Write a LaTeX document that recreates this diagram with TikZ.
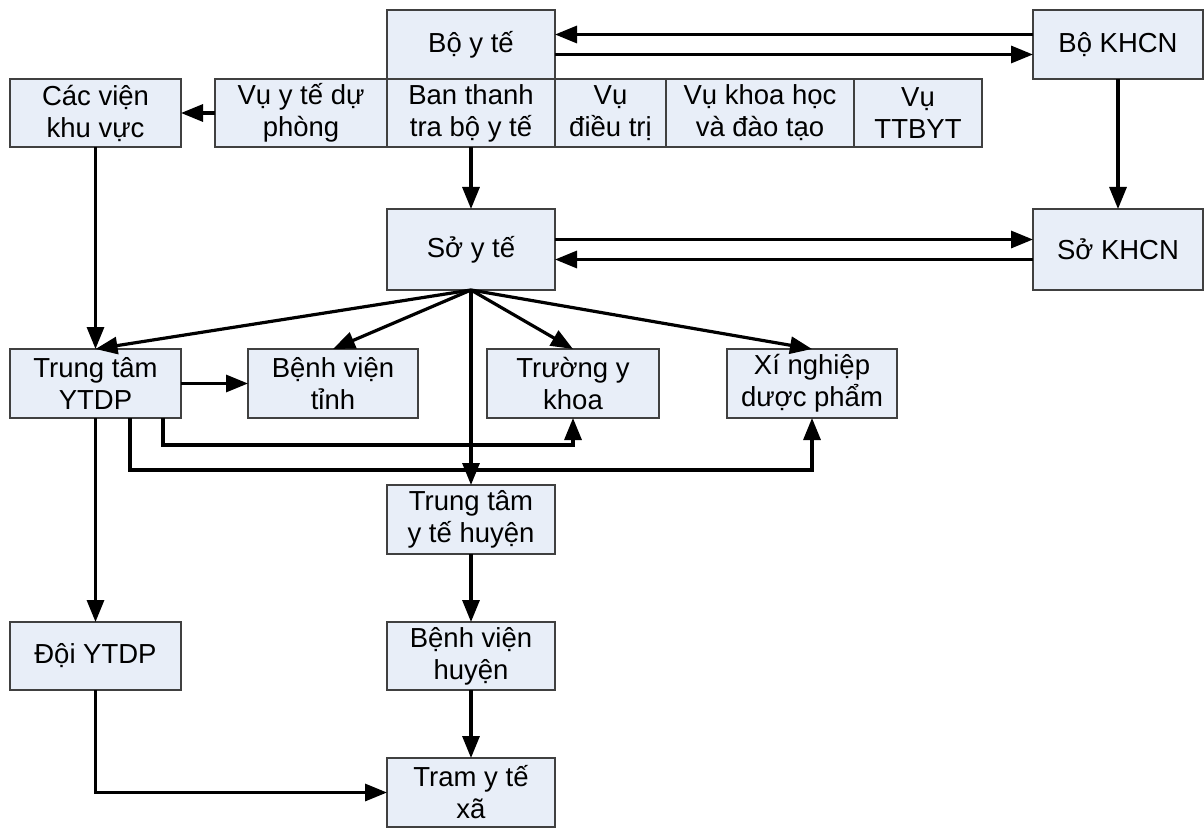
\documentclass[tikz,border=0pt]{standalone}
\usepackage{fontspec}
\setmainfont{Liberation Sans}
\usetikzlibrary{arrows.meta}
\definecolor{boxfill}{RGB}{232,238,248}
\definecolor{boxline}{RGB}{64,64,64}
\newcommand\mybox[6]{\node[box,minimum width={#4-#2},minimum height={#5-#3}] (#1) at ({(#2+#4)/2},{(#3+#5)/2}) {#6};}
\begin{document}
\begin{tikzpicture}[x=1pt,y=-1pt,
  box/.style={draw=boxline,fill=boxfill,line width=1.5pt,inner sep=0pt,outer sep=0pt,align=center,
    font=\fontsize{27.5}{32}\selectfont},
  arr/.style={line width=3.2pt,-{Triangle[length=22pt,width=17pt]}}]
\useasboundingbox (0,0) rectangle (1204,829);
\mybox{boy}{387}{10}{555}{79}{Bộ y tế}
\mybox{bokhcn}{1033}{10}{1203}{79}{Bộ KHCN}
\mybox{cacvien}{10}{79}{181}{147}{Các viện\\khu vực}
\mybox{vuytdp}{215}{79}{387}{147}{Vụ y tế dự\\phòng}
\mybox{banthanh}{387}{79}{555}{147}{Ban thanh\\tra bộ y tế}
\mybox{vudieutri}{555}{79}{666}{147}{Vụ\\điều trị}
\mybox{vukhoahoc}{666}{79}{854}{147}{Vụ khoa học\\và đào tạo}
\mybox{vuttbyt}{854}{79}{982}{147}{Vụ\\TTBYT}
\mybox{soyte}{387}{209}{555}{290}{Sở y tế}
\mybox{sokhcn}{1033}{209}{1203}{290}{Sở KHCN}
\mybox{ttytdp}{10}{349}{181}{418}{Trung tâm\\YTDP}
\mybox{bvtinh}{248}{349}{418}{418}{Bệnh viện\\tỉnh}
\mybox{truongyk}{487}{349}{659}{418}{Trường y\\khoa}
\mybox{xinghiep}{727}{349}{897}{418}{Xí nghiệp\\dược phẩm}
\mybox{ttyth}{387}{485}{555}{554}{Trung tâm\\y tế huyện}
\mybox{bvhuyen}{387}{622}{555}{690}{Bệnh viện\\huyện}
\mybox{tramyt}{387}{758}{555}{827}{Tram y tế\\xã}
\mybox{doiytdp}{10}{622}{181}{690}{Đội YTDP}
% top links
\draw[arr] ([yshift=10pt]bokhcn.west) -- ([yshift=10pt]boy.east);
\draw[arr] ([yshift=-10pt]boy.east) -- ([yshift=-10pt]bokhcn.west);
\draw[arr] ([yshift=10pt]soyte.east) -- ([yshift=10pt]sokhcn.west);
\draw[arr] ([yshift=-10pt]sokhcn.west) -- ([yshift=-10pt]soyte.east);
\draw[arr] (bokhcn.south) -- (sokhcn.north);
\draw[arr] (vuytdp.west) -- (cacvien.east);
\draw[arr] (banthanh.south) -- (soyte.north);
% fan from so y te
\draw[arr] (soyte.south) -- (ttytdp.north);
\draw[arr] (soyte.south) -- (bvtinh.north);
\draw[arr] (soyte.south) -- (truongyk.north);
\draw[arr] (soyte.south) -- (xinghiep.north);
\draw[arr] (soyte.south) -- (ttyth.north);
\draw[arr] (cacvien.south) -- (ttytdp.north);
\draw[arr] (ttytdp.east) -- (bvtinh.west);
\draw[arr] ([xshift=67.5pt]ttytdp.south) -- ++(0,27) -| (truongyk.south);
\draw[arr] ([xshift=34.5pt]ttytdp.south) -- ++(0,52) -| (xinghiep.south);
\draw[arr] (ttytdp.south) -- (doiytdp.north);
\draw[arr] (doiytdp.south) |- (tramyt.west);
\draw[arr] (ttyth.south) -- (bvhuyen.north);
\draw[arr] (bvhuyen.south) -- (tramyt.north);
\end{tikzpicture}
\end{document}
